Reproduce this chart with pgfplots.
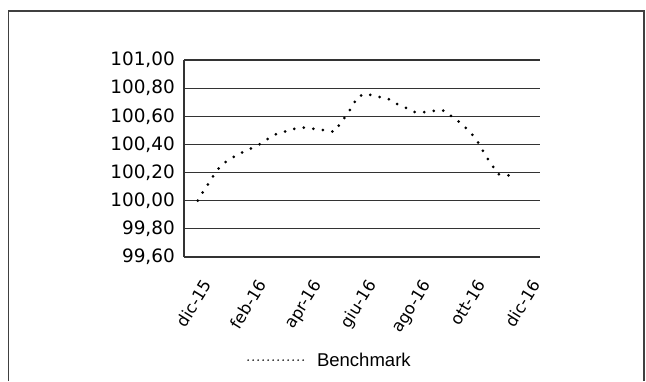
\documentclass[border=0pt]{standalone}
\usepackage{pgfplots}
\pgfplotsset{compat=1.18}
\usepackage{fontspec}
\setmainfont{Liberation Sans}
\newfontfamily\tickfont{DejaVu Sans}

\pgfplotstableread{
m      v
-0.075 100.00
0.12   100.065
0.33   100.125
0.54   100.19
0.77   100.25
1.05   100.29
1.40   100.33
1.74   100.36
2.09   100.39
2.41   100.43
2.74   100.47
3.08   100.49
3.43   100.51
3.80   100.52
4.18   100.51
4.57   100.50
4.92   100.49
5.13   100.55
5.37   100.61
5.56   100.67
5.77   100.74
6.08   100.76
6.45   100.74
6.83   100.73
7.17   100.69
7.53   100.66
7.85   100.63
8.23   100.63
8.60   100.64
8.96   100.64
9.25   100.59
9.55   100.55
9.85   100.49
10.08  100.44
10.26  100.38
10.47  100.31
10.68  100.25
10.87  100.19
11.22  100.18
11.61  100.18
}\bench

\begin{document}
\begin{tikzpicture}[x=1bp,y=1bp]
\path (0,0) rectangle (646,381);
\draw[black!75, line width=1.6bp] (8.5,0) -- (8.5,370) -- (644,370) -- (644,0);
\begin{axis}[
  at={(184bp,124bp)}, anchor=south west,
  scale only axis, width=356bp, height=197bp,
  xmin=-0.577, xmax=12.42, ymin=99.6, ymax=101,
  axis x line=bottom, axis y line=left,
  axis line style={-, black!80, line width=1.2bp},
  xtick={0,2,4,6,8,10,12},
  xticklabels={dic-15,feb-16,apr-16,giu-16,ago-16,ott-16,dic-16},
  ytick={99.6,99.8,100,100.2,100.4,100.6,100.8,101},
  ymajorgrids, grid style={black!80, line width=1.2bp},
  major tick length=0pt,
  /pgf/number format/.cd, fixed, fixed zerofill, precision=2, use comma, assume math mode=true,
  /pgfplots/.cd,
  yticklabel style={font=\tickfont\fontsize{18.5}{18.5}\selectfont, inner sep=0pt, xshift=-9bp},
  xticklabel style={font=\tickfont\fontsize{16.5}{16.5}\selectfont, xshift=2bp, yshift=-21bp, rotate=58, anchor=north east, inner sep=0pt},
  legend style={draw=none, fill=none, inner sep=0pt,
    /tikz/every odd column/.append style={column sep=11bp},
    at={(rel axis cs:0.177,-0.523)}, anchor=west,
    font=\fontsize{18.6}{19}\selectfont,
    nodes={inner sep=0pt}},
  legend image code/.code={%
    \draw[black, line width=1.8bp, line cap=round, dash pattern=on 0bp off 5bp] (0bp,0bp) -- (57bp,0bp);},
]
\addplot[black, line width=3bp, line cap=round, dash pattern=on 0bp off 9.6bp] table[x=m, y=v] {\bench};
\addlegendentry{Benchmark}
\end{axis}
\end{tikzpicture}
\end{document}
